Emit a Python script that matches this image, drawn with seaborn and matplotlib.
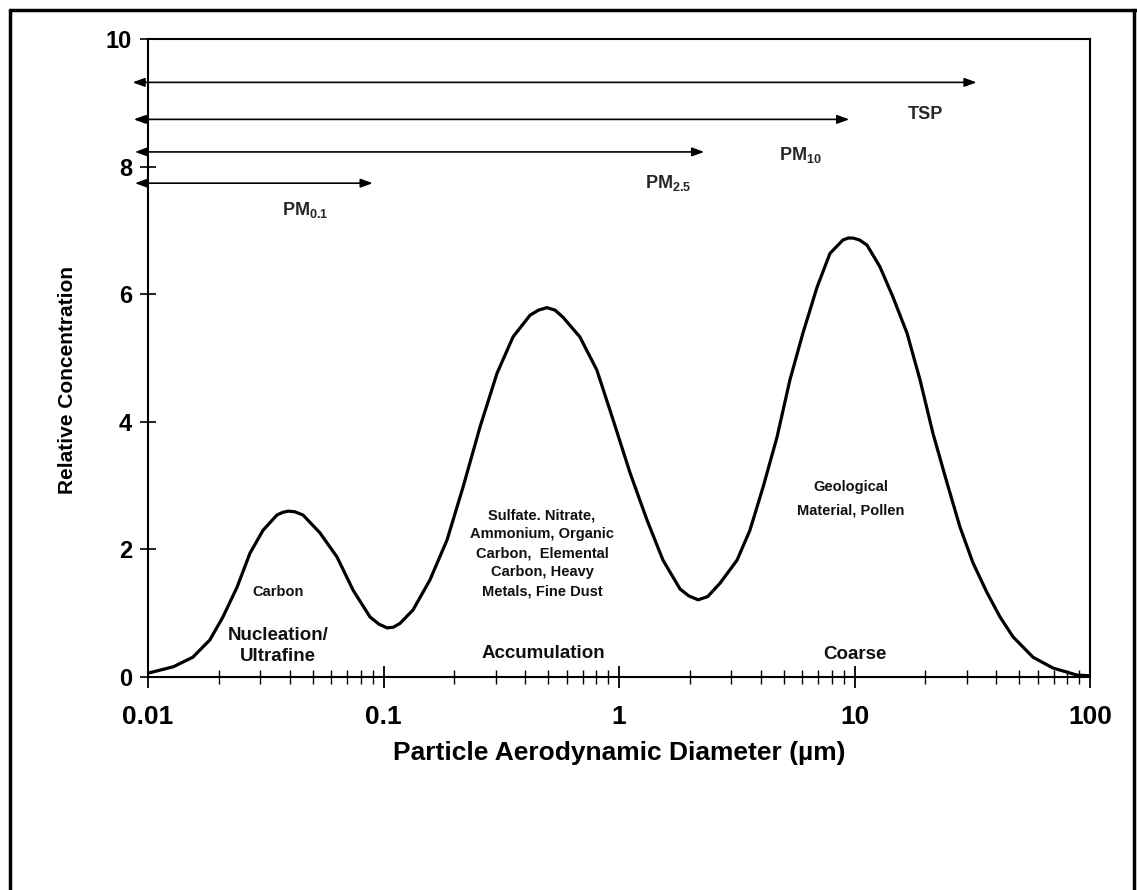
import pandas as pd
import matplotlib
matplotlib.use('Agg')
import matplotlib.pyplot as plt
from matplotlib.lines import Line2D
from matplotlib.ticker import LogLocator, FixedLocator, NullFormatter
import seaborn as sns

# curve: diameter (um) vs relative concentration
diam = [0.0100, 0.0128, 0.0155, 0.0183, 0.0208, 0.0239, 0.0271, 0.0308, 0.0353, 0.0373,
        0.0394, 0.0420, 0.0455, 0.0537, 0.0635, 0.0743, 0.0877, 0.0955, 0.1035, 0.1100,
        0.1175, 0.1334, 0.1574, 0.1862, 0.2178, 0.2570, 0.3034, 0.3548, 0.4188, 0.4550,
        0.4943, 0.5350, 0.5781, 0.6823, 0.8054, 0.9441, 1.114, 1.315, 1.538, 1.816,
        1.980, 2.168, 2.380, 2.685, 3.170, 3.597, 4.093, 4.688, 5.321, 6.039,
        6.934, 7.870, 8.933, 9.400, 9.863, 10.50, 11.30, 12.82, 14.55, 16.71,
        18.97, 21.53, 24.72, 28.05, 31.84, 36.56, 41.50, 47.10, 57.28, 69.66,
        88.10, 100.0]
conc = [0.06, 0.16, 0.31, 0.58, 0.94, 1.41, 1.94, 2.30, 2.54, 2.58,
        2.60, 2.59, 2.54, 2.26, 1.88, 1.36, 0.94, 0.83, 0.77, 0.78,
        0.84, 1.05, 1.52, 2.15, 2.98, 3.92, 4.76, 5.33, 5.67, 5.75,
        5.79, 5.75, 5.64, 5.33, 4.81, 4.03, 3.20, 2.46, 1.83, 1.38,
        1.27, 1.21, 1.26, 1.47, 1.83, 2.30, 2.98, 3.76, 4.66, 5.39,
        6.11, 6.64, 6.85, 6.88, 6.88, 6.85, 6.77, 6.43, 5.96, 5.39,
        4.66, 3.82, 3.04, 2.35, 1.79, 1.32, 0.94, 0.63, 0.31, 0.14,
        0.03, 0.02]

# size-fraction arrows
frac_names = ['TSP', 'PM$_{\\mathbf{10}}$', 'PM$_{\\mathbf{2.5}}$', 'PM$_{\\mathbf{0.1}}$']
frac_start = [0.0086, 0.0087, 0.0088, 0.0088]
frac_end = [33.0, 9.5, 2.3, 0.09]
frac_y = [9.32, 8.74, 8.23, 7.74]
frac_label_x = [20.1, 5.9, 1.61, 0.0465]
frac_label_y = [8.81, 8.18, 7.74, 7.32]

# mode / composition notes
note_text = ['Carbon', 'Nucleation/\nUltrafine', 'Accumulation', 'Coarse',
             'Sulfate. Nitrate,\nAmmonium, Organic\nCarbon,  Elemental\nCarbon, Heavy\nMetals, Fine Dust',
             'Geological\nMaterial, Pollen']
note_x = [0.0356, 0.0356, 0.479, 10.0, 0.471, 9.67]
note_y = [1.33, 0.49, 0.376, 0.36, 1.94, 2.80]
note_size = [10.5, 13.5, 13.5, 13.5, 10.5, 10.5]
note_lsp = [1.2, 1.3, 1.2, 1.2, 1.45, 1.85]

x_ticks = [0.01, 0.1, 1, 10, 100]
x_ticklabels = ['0.01', '0.1', '1', '10', '100']
y_ticks = [0, 2, 4, 6, 8, 10]

sns.set_theme(style='white')
plt.rcParams['font.family'] = ['Liberation Sans', 'DejaVu Sans']
plt.rcParams['mathtext.fontset'] = 'custom'
plt.rcParams['mathtext.rm'] = 'Liberation Sans'
plt.rcParams['mathtext.bf'] = 'Liberation Sans:bold'

df = pd.DataFrame({'diam': diam, 'conc': conc})

fig = plt.figure(figsize=(11.37, 8.9), dpi=100)
ax = fig.add_axes([148 / 1137, 1 - 677 / 890, 942 / 1137, 638 / 890])

sns.lineplot(data=df, x='diam', y='conc', ax=ax, color='black', linewidth=2.3,
             estimator=None, sort=False)
ax.set_xscale('log')
ax.set_xlim(0.01, 100)
ax.set_ylim(0, 10)

ax.xaxis.set_major_locator(FixedLocator(x_ticks))
ax.set_xticklabels(x_ticklabels)
ax.xaxis.set_minor_locator(LogLocator(base=10, subs=range(2, 10)))
ax.xaxis.set_minor_formatter(NullFormatter())
ax.set_yticks(y_ticks)
ax.tick_params(axis='x', which='major', direction='inout', length=16, width=1.3,
               pad=12, labelsize=19, colors='black', bottom=True)
ax.tick_params(axis='x', which='minor', direction='inout', length=10, width=1.0,
               bottom=True, colors='black')
ax.tick_params(axis='y', which='major', direction='inout', length=11, width=1.2,
               pad=6, labelsize=17, left=True, colors='black')
for lab in ax.get_xticklabels() + ax.get_yticklabels():
    lab.set_fontweight('bold')

for sp in ax.spines.values():
    sp.set_color('black')
    sp.set_linewidth(1.5)

ax.set_xlabel('Particle Aerodynamic Diameter (µm)', fontsize=19, fontweight='bold',
              color='black')
ax.set_ylabel('Relative Concentration', fontsize=15, fontweight='bold', color='black')
ax.xaxis.set_label_coords(0.5, -0.1)
ax.yaxis.set_label_coords(-0.075, 0.466)

for name, x0, x1, y, lx, ly in zip(frac_names, frac_start, frac_end, frac_y,
                                   frac_label_x, frac_label_y):
    ax.annotate('', xy=(x1, y), xytext=(x0, y), annotation_clip=False,
                arrowprops=dict(arrowstyle='<|-|>,head_length=0.6,head_width=0.22',
                                color='black', lw=1.2, mutation_scale=12,
                                shrinkA=0, shrinkB=0))
    ax.text(lx, ly, name, fontsize=13, fontweight='bold', ha='center', va='center')

for t, x, y, s, lsp in zip(note_text, note_x, note_y, note_size, note_lsp):
    ax.text(x, y, t, fontsize=s, fontweight='bold', ha='center', va='center',
            linespacing=lsp, color='#111111')

# scanned page frame
fig.add_artist(Line2D([10 / 1137, 10 / 1137], [0, 1 - 10 / 890], color='black', lw=2.5))
fig.add_artist(Line2D([10 / 1137, 1], [1 - 10 / 890, 1 - 10 / 890], color='black', lw=2.5))
fig.add_artist(Line2D([1134 / 1137, 1134 / 1137], [0, 1 - 10 / 890], color='black', lw=2.5))

fig.savefig('out.png', dpi=100)
